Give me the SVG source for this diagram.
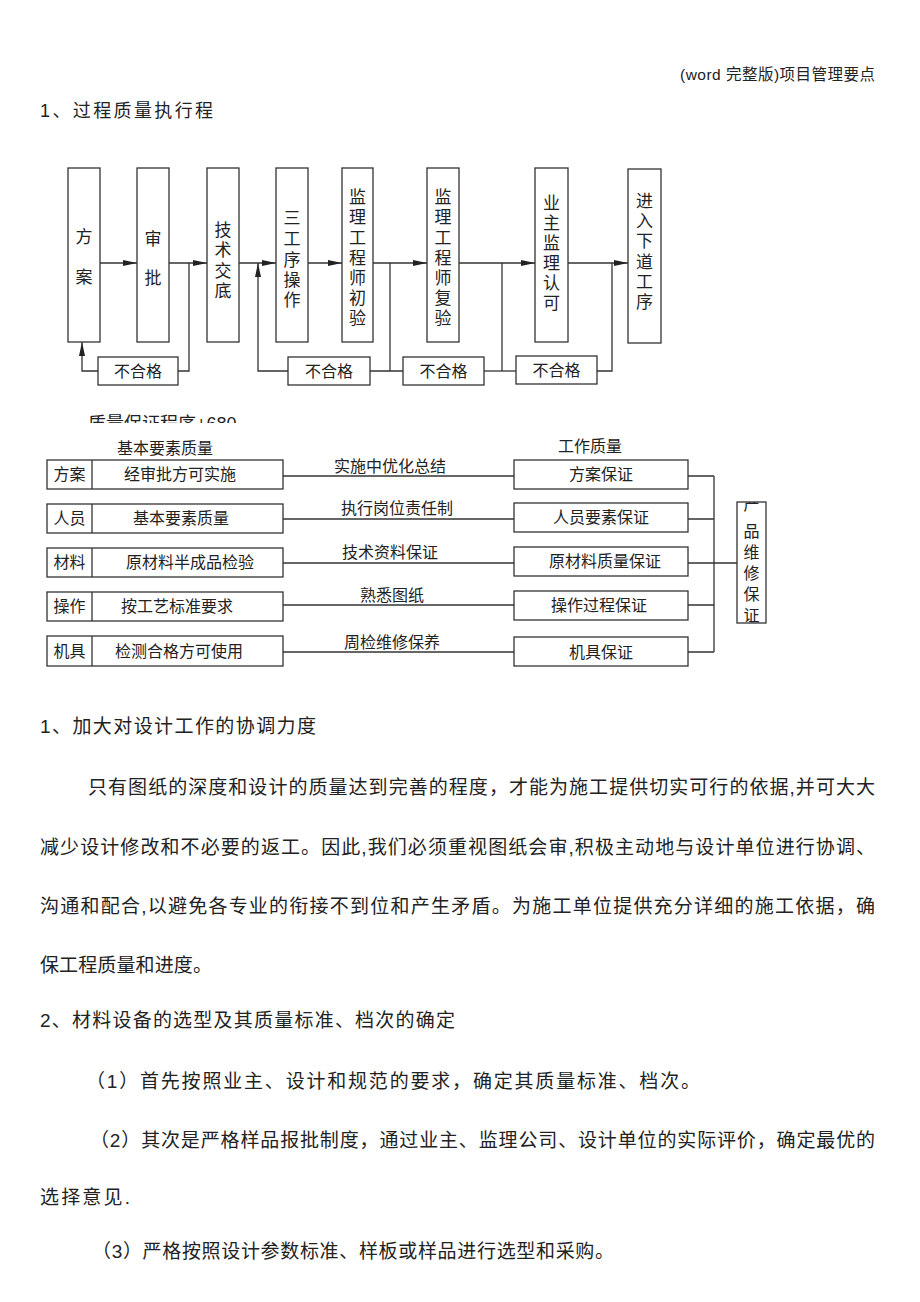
<svg xmlns="http://www.w3.org/2000/svg" width="920" height="1302" viewBox="0 0 920 1302">
<style>
text{font-family:"Liberation Sans","Noto Sans CJK SC","Noto Sans CJK JP",sans-serif;fill:#222}
.bx{fill:#fff;stroke:#333;stroke-width:1.3}
.ln{fill:none;stroke:#333;stroke-width:1.3}
.v{font-size:17px;text-anchor:middle}
.t16{font-size:16px;text-anchor:middle}
.body{font-size:19px}
.hd{font-size:15.5px}
</style>
<defs>
<marker id="ah" viewBox="0 0 14 6" refX="14" refY="3" markerWidth="14" markerHeight="6" markerUnits="userSpaceOnUse" orient="auto">
<path d="M0,0 L14,3 L0,6 z" fill="#222"/>
</marker>
<clipPath id="cut"><rect x="0" y="400" width="400" height="23"/></clipPath>
<clipPath id="pbox"><rect x="737" y="502" width="29" height="121"/></clipPath>
</defs>
<rect width="920" height="1302" fill="#fff"/>

<text x="680" y="80" class="hd" textLength="195" lengthAdjust="spacing">(word 完整版)项目管理要点</text>
<text x="40" y="117" style="font-size:18px" textLength="173" lengthAdjust="spacing">1、过程质量执行程</text>

<g id="connectors1">
<path class="ln" d="M100,263 H137" marker-end="url(#ah)"/>
<path class="ln" d="M169,263 H207" marker-end="url(#ah)"/>
<path class="ln" d="M239,263 H276" marker-end="url(#ah)"/>
<path class="ln" d="M308,263 H342" marker-end="url(#ah)"/>
<path class="ln" d="M373,263 H427" marker-end="url(#ah)"/>
<path class="ln" d="M459,263 H535" marker-end="url(#ah)"/>
<path class="ln" d="M568,263 H628" marker-end="url(#ah)"/>
<path class="ln" d="M189,263 V371 H178"/>
<path class="ln" d="M98,371 H82 V342" marker-end="url(#ah)"/>
<path class="ln" d="M288,371 H258 V263" marker-end="url(#ah)"/>
<path class="ln" d="M370,371 H403"/>
<path class="ln" d="M390,263 V371"/>
<path class="ln" d="M484,371 H516"/>
<path class="ln" d="M502,263 V371"/>
<path class="ln" d="M597,371 H612 V263"/>
</g>

<g id="n-fangan"><rect class="bx" x="68" y="168" width="32" height="174"/>
<text class="v"><tspan x="84" y="243">方</tspan><tspan x="84" y="283">案</tspan></text></g>
<g id="n-shenpi"><rect class="bx" x="137" y="168" width="32" height="174"/>
<text class="v"><tspan x="153" y="245">审</tspan><tspan x="153" y="284">批</tspan></text></g>
<g id="n-jishu"><rect class="bx" x="207" y="168" width="32" height="174"/>
<text class="v"><tspan x="223" y="236">技</tspan><tspan x="223" y="256">术</tspan><tspan x="223" y="277">交</tspan><tspan x="223" y="297">底</tspan></text></g>
<g id="n-sangongxu"><rect class="bx" x="276" y="168" width="32" height="174"/>
<text class="v"><tspan x="292" y="224">三</tspan><tspan x="292" y="245">工</tspan><tspan x="292" y="266">序</tspan><tspan x="292" y="286">操</tspan><tspan x="292" y="306">作</tspan></text></g>
<g id="n-chuyan"><rect class="bx" x="342" y="168" width="31" height="174"/>
<text class="v"><tspan x="357.5" y="203">监</tspan><tspan x="357.5" y="223">理</tspan><tspan x="357.5" y="244">工</tspan><tspan x="357.5" y="264">程</tspan><tspan x="357.5" y="284">师</tspan><tspan x="357.5" y="304">初</tspan><tspan x="357.5" y="324">验</tspan></text></g>
<g id="n-fuyan"><rect class="bx" x="427" y="168" width="32" height="174"/>
<text class="v"><tspan x="443" y="203">监</tspan><tspan x="443" y="223">理</tspan><tspan x="443" y="244">工</tspan><tspan x="443" y="264">程</tspan><tspan x="443" y="284">师</tspan><tspan x="443" y="304">复</tspan><tspan x="443" y="324">验</tspan></text></g>
<g id="n-yezhu"><rect class="bx" x="535" y="168" width="33" height="174"/>
<text class="v"><tspan x="551.5" y="209">业</tspan><tspan x="551.5" y="229">主</tspan><tspan x="551.5" y="249">监</tspan><tspan x="551.5" y="269">理</tspan><tspan x="551.5" y="289">认</tspan><tspan x="551.5" y="309">可</tspan></text></g>
<g id="n-jinru"><rect class="bx" x="628" y="169" width="33" height="174"/>
<text class="v"><tspan x="644.5" y="207">进</tspan><tspan x="644.5" y="227">入</tspan><tspan x="644.5" y="247">下</tspan><tspan x="644.5" y="268">道</tspan><tspan x="644.5" y="288">工</tspan><tspan x="644.5" y="308">序</tspan></text></g>
<g id="n-bhg1"><rect class="bx" x="98" y="357" width="80" height="28"/><text class="t16" x="138" y="377">不合格</text></g>
<g id="n-bhg2"><rect class="bx" x="288" y="357" width="82" height="28"/><text class="t16" x="329" y="377">不合格</text></g>
<g id="n-bhg3"><rect class="bx" x="403" y="357" width="81" height="28"/><text class="t16" x="443.5" y="377">不合格</text></g>
<g id="n-bhg4"><rect class="bx" x="516" y="356" width="81" height="28"/><text class="t16" x="556.5" y="376">不合格</text></g>

<text x="88" y="430" clip-path="url(#cut)" style="font-size:18px">质量保证程序+680</text>

<text class="t16" x="165" y="454">基本要素质量</text>
<text class="t16" x="590" y="452">工作质量</text>

<g id="connectors2">
<path class="ln" d="M283,476 H514"/>
<path class="ln" d="M283,519 H514"/>
<path class="ln" d="M283,563 H514"/>
<path class="ln" d="M283,605 H514"/>
<path class="ln" d="M283,652 H514"/>
<path class="ln" d="M688,476 H714 M688,519 H714 M688,563 H714 M688,605 H714 M688,652 H714 M714,476 V652 M714,563 H737"/>
</g>
<g id="labels2">
<text class="t16" x="390" y="472">实施中优化总结</text>
<text class="t16" x="397" y="514">执行岗位责任制</text>
<text class="t16" x="390" y="558">技术资料保证</text>
<text class="t16" x="392" y="601">熟悉图纸</text>
<text class="t16" x="392" y="648">周检维修保养</text>
</g>

<g id="r-fangan"><rect class="bx" x="47" y="460" width="236" height="29"/><path class="ln" d="M92,460 V489"/>
<text class="t16" x="69.5" y="480">方案</text><text class="t16" x="180" y="480">经审批方可实施</text></g>
<g id="r-renyuan"><rect class="bx" x="47" y="504" width="236" height="29"/><path class="ln" d="M92,504 V533"/>
<text class="t16" x="69.5" y="524">人员</text><text class="t16" x="181" y="524">基本要素质量</text></g>
<g id="r-cailiao"><rect class="bx" x="47" y="548" width="236" height="29"/><path class="ln" d="M92,548 V577"/>
<text class="t16" x="69.5" y="568">材料</text><text class="t16" x="190" y="568">原材料半成品检验</text></g>
<g id="r-caozuo"><rect class="bx" x="47" y="592" width="236" height="29"/><path class="ln" d="M92,592 V621"/>
<text class="t16" x="69.5" y="612">操作</text><text class="t16" x="177" y="612">按工艺标准要求</text></g>
<g id="r-jiju"><rect class="bx" x="47" y="636" width="236" height="30"/><path class="ln" d="M92,636 V666"/>
<text class="t16" x="69.5" y="657">机具</text><text class="t16" x="179" y="657">检测合格方可使用</text></g>

<g id="w-fangan"><rect class="bx" x="514" y="460" width="174" height="29"/><text class="t16" x="601" y="480">方案保证</text></g>
<g id="w-renyuan"><rect class="bx" x="514" y="503" width="174" height="29"/><text class="t16" x="601" y="523">人员要素保证</text></g>
<g id="w-cailiao"><rect class="bx" x="514" y="547" width="174" height="29"/><text class="t16" x="605" y="567">原材料质量保证</text></g>
<g id="w-caozuo"><rect class="bx" x="514" y="591" width="174" height="29"/><text class="t16" x="599" y="611">操作过程保证</text></g>
<g id="w-jiju"><rect class="bx" x="514" y="637" width="174" height="29"/><text class="t16" x="601" y="658">机具保证</text></g>
<g id="p-baozheng"><rect class="bx" x="737" y="502" width="29" height="121"/>
<text class="v" clip-path="url(#pbox)" style="font-size:16px"><tspan x="751.5" y="510">产</tspan><tspan x="751.5" y="537">品</tspan><tspan x="751.5" y="558">维</tspan><tspan x="751.5" y="579">修</tspan><tspan x="751.5" y="600">保</tspan><tspan x="751.5" y="621">证</tspan></text></g>

<text class="body" x="40" y="733" textLength="276" lengthAdjust="spacing">1、加大对设计工作的协调力度</text>
<text class="body" x="88" y="794" textLength="787" lengthAdjust="spacing">只有图纸的深度和设计的质量达到完善的程度，才能为施工提供切实可行的依据,并可大大</text>
<text class="body" x="40" y="854" textLength="835" lengthAdjust="spacing">减少设计修改和不必要的返工。因此,我们必须重视图纸会审,积极主动地与设计单位进行协调、</text>
<text class="body" x="40" y="913" textLength="835" lengthAdjust="spacing">沟通和配合,以避免各专业的衔接不到位和产生矛盾。为施工单位提供充分详细的施工依据，确</text>
<text class="body" x="40" y="972" textLength="172" lengthAdjust="spacing">保工程质量和进度。</text>
<text class="body" x="40" y="1027" textLength="415" lengthAdjust="spacing">2、材料设备的选型及其质量标准、档次的确定</text>
<text class="body" x="86" y="1088" textLength="614" lengthAdjust="spacing">（1）首先按照业主、设计和规范的要求，确定其质量标准、档次。</text>
<text class="body" x="90" y="1147" textLength="785" lengthAdjust="spacing">（2）其次是严格样品报批制度，通过业主、监理公司、设计单位的实际评价，确定最优的</text>
<text class="body" x="40" y="1204" textLength="90" lengthAdjust="spacing">选择意见.</text>
<text class="body" x="92" y="1258" textLength="522" lengthAdjust="spacing">（3）严格按照设计参数标准、样板或样品进行选型和采购。</text>
</svg>
